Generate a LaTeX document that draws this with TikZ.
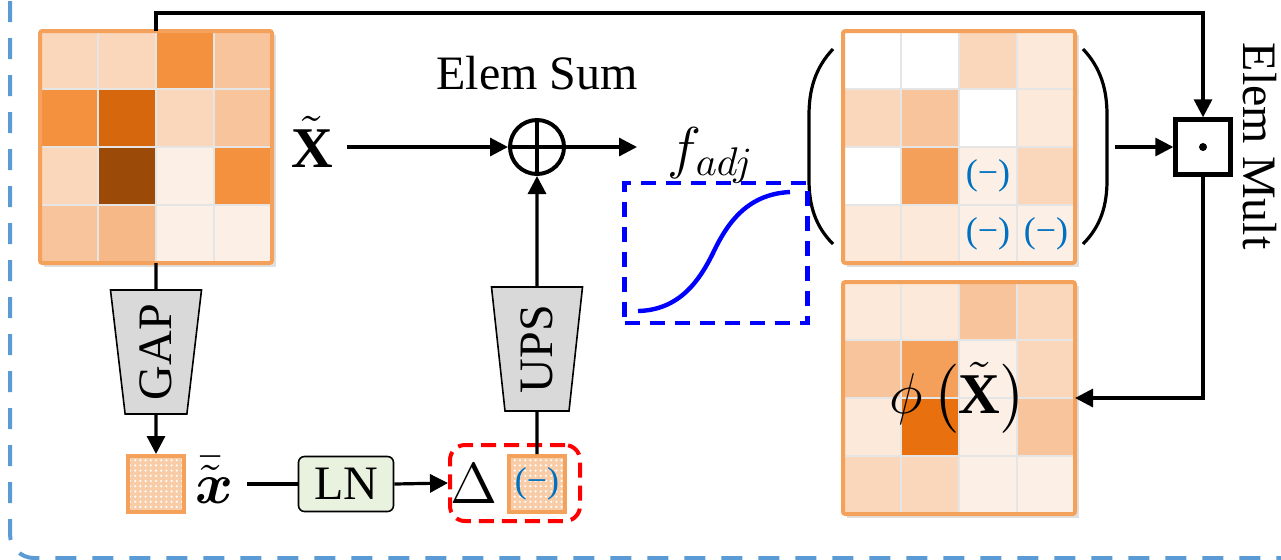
\documentclass[tikz,border=0pt]{standalone}
\usepackage{fontspec}
\setmainfont{Liberation Serif}
\usepackage{amsmath}
\usepackage{graphicx}
\usetikzlibrary{arrows.meta,shapes.geometric,patterns.meta}

\definecolor{orangeB}{HTML}{F4A15C}
\definecolor{hA}{HTML}{FCEFE5}
\definecolor{hB}{HTML}{FCE9D9}
\definecolor{hC}{HTML}{FAD7BB}
\definecolor{hD}{HTML}{F8C49C}
\definecolor{hE}{HTML}{F6B886}
\definecolor{hF}{HTML}{F3913F}
\definecolor{hG}{HTML}{F4A05A}
\definecolor{hH}{HTML}{D6670D}
\definecolor{hI}{HTML}{E8700F}
\definecolor{hJ}{HTML}{9C4A08}
\definecolor{minusblue}{HTML}{0070C0}
\definecolor{outerblue}{HTML}{5B9BD5}
\definecolor{lngreen}{HTML}{E9F1DF}
\definecolor{trapgray}{HTML}{D9D9D9}
\definecolor{sqpeach}{HTML}{F9CCA8}

\newcommand{\heatgrid}[4]{%
	\fill[black!12] ({#2+4},{#3+4}) rectangle ++(232,232);
	\foreach \c [count=\k from 0] in {#4} {
		\pgfmathtruncatemacro\gc{mod(\k,4)}
		\pgfmathtruncatemacro\gr{div(\k,4)}
		\fill[\c] ({#2+58*\gc},{#3+58*\gr}) rectangle ++(58,58);
	}
	\foreach \t in {1,2,3} {
		\draw[cellline] ({#2+58*\t},#3) -- ++(0,232);
		\draw[cellline] (#2,{#3+58*\t}) -- ++(232,0);
	}
	\node[gridframe, anchor=north west] (#1) at (#2,#3) {};
}

\begin{document}
\begin{tikzpicture}[x=0.25pt, y=-0.25pt]
		\tikzstyle{every node}=[font=\large]
		\tikzstyle{conn}=[line width=0.8pt]
		\tikzstyle{arr}=[conn, -{Triangle[length=4.5pt, width=4.5pt]}]
		\tikzstyle{cellline}=[black!10, line width=0.5pt]
		\tikzstyle{gridframe}=[draw=orangeB, line width=1pt, minimum size=58pt, inner sep=0pt, outer sep=0pt, rounded corners=0.6pt]
		\tikzstyle{smallsq}=[draw=orangeB, line width=1pt, minimum size=14pt, inner sep=0pt, preaction={fill=sqpeach}, pattern={Dots[distance=1.3pt, radius=0.3pt]}, pattern color=white]
		\tikzstyle{trap}=[trapezium, trapezium stretches body, shape border rotate=180, trapezium left angle=82, trapezium right angle=82, draw, line width=0.4pt, fill=trapgray, minimum width=22.75pt, minimum height=31pt, inner sep=1pt]
		\tikzstyle{lnbox}=[draw, line width=0.4pt, fill=lngreen, rounded corners=1.5pt, minimum width=23.75pt, minimum height=13.75pt, inner sep=0pt]
		\tikzstyle{grpbox}=[draw=red, line width=1pt, dash pattern=on 3.75pt off 2pt, rounded corners=3.75pt, minimum width=32.5pt, minimum height=19pt]
		\tikzstyle{fadjbox}=[draw=blue, line width=1.1pt, dash pattern=on 3.75pt off 2.5pt, minimum width=45.75pt, minimum height=35pt]
		\tikzstyle{opsum}=[circle, draw, line width=1pt, minimum size=13.5pt, inner sep=0pt, path picture={\draw[line width=1pt] (path picture bounding box.north) -- (path picture bounding box.south) (path picture bounding box.west) -- (path picture bounding box.east);}]
		\tikzstyle{opmult}=[draw, line width=1.1pt, minimum size=13.75pt, inner sep=0pt]
		\tikzstyle{minus}=[text=minusblue, font=\small, inner sep=0pt]
		\tikzstyle{paren}=[line width=0.8pt]
		
		\useasboundingbox (0,0) rectangle (1281,559);
		\clip (0,0) rectangle (1281,559);
		\draw[outerblue, line width=1pt, dash pattern=on 5.25pt off 4pt, rounded corners=6pt] (10,-60) rectangle (1340,558);
		
		\heatgrid{g1}{40}{31}{hC,hC,hF,hD,hF,hH,hC,hD,hC,hJ,hA,hF,hD,hE,hA,hA}
		\heatgrid{g2}{843}{31}{white,white,hC,hB,hC,hD,white,hB,white,hG,hA,hC,hB,hB,hA,hA}
		\heatgrid{g3}{843}{282}{hB,hB,hD,hC,hD,hG,hA,hC,hB,hI,hA,hD,hC,hC,hA,hA}
		
		\node[minus] (m1) at (988,176) {(−)};
		\node[minus] (m2) at (988,234) {(−)};
		\node[minus] (m3) at (1046,234) {(−)};
		\node[anchor=base] (phix) at (958,413) {\Large$\phi\,\bigl(\tilde{\mathbf{X}}\bigr)$};
		
		\draw[paren] (833,49) .. controls (815,68) and (809,90) .. (809,115) -- (809,180) .. controls (809,205) and (815,226) .. (833,244);
		\draw[paren] (1083,49) .. controls (1101,68) and (1107,90) .. (1107,115) -- (1107,180) .. controls (1107,205) and (1101,226) .. (1083,244);
		\coordinate (rp) at (1115,147);
		
		\node[anchor=base] (xt) at (312,167) {\Large$\tilde{\mathbf{X}}$};
		\node[opsum] (sum) at (537,147) {};
		\node[anchor=base] (sumlbl) at (537,89) {Elem Sum};
		\node[anchor=base] (fadj) at (711,167) {\Large$f_{adj}$};
		\coordinate (fin) at (637,147);
		\node[fadjbox] (fcurve) at (716,253) {};
		\draw[blue, line width=1.1pt] (638,311) .. controls (680,310) and (700,280) .. (714,251) .. controls (728,222) and (748,194) .. (790,192);
		
		\node[opmult] (mult) at (1203,147) {};
		\fill (mult.center) circle (1pt);
		\node[rotate=-90] (multlbl) at (1260,146) {Elem Mult};
		
		\node[trap] (gap) at (156,352) {\rotatebox{90}{GAP}};
		\node[trap] (ups) at (537,349) {\rotatebox{90}{UPS}};
		\node[smallsq] (sq1) at (156,484) {};
		\node[anchor=base] (xb) at (214,503) {\Large$\bar{\tilde{\boldsymbol{x}}}$};
		\node[lnbox] (ln) at (346,484) {LN};
		\node[grpbox] (grp) at (515,483) {};
		\node[anchor=base] (delta) at (474,503) {\Large$\Delta$};
		\node[smallsq, text=minusblue, font=\small] (sq2) at (537,484) {(−)};
		
		\draw[arr] (xt.east |- sum.west) -- (sum.west);
		\draw[arr] (sum.east) -- (fin);
		\draw[arr] (rp) -- (mult.west);
		\draw[arr] (g1.north) -- ++(0,-18) -| (mult.north);
		\draw[arr] (mult.south) |- (g3.east);
		\draw[conn] (g1.south) -- (gap.north);
		\draw[arr] (gap.south) -- (sq1.north);
		\draw[conn] (xb.east |- ln.west) -- (ln.west);
		\draw[arr] (ln.east) -- (grp.west);
		\draw[conn] (sq2.north) -- (ups.south);
		\draw[arr] (ups.north) -- (sum.south);
		
\end{tikzpicture}
\end{document}
